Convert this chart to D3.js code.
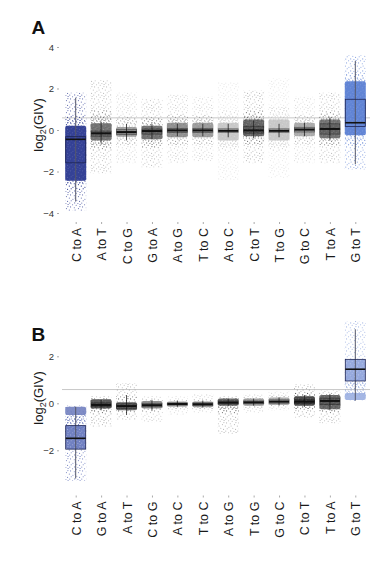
<!DOCTYPE html>
<html><head><meta charset="utf-8">
<script src="https://cdn.jsdelivr.net/npm/d3@7"></script>
<style>
html,body{margin:0;padding:0;background:#fff;}
svg{display:block;}
text{font-family:"Liberation Sans",Arial,Helvetica,sans-serif;}
</style></head>
<body>
<svg id="chart" width="382" height="562"></svg>
<script>
// ---------- Panel A data ----------
const catsA = ["C to A","A to T","C to G","G to A","A to G","T to C","A to C","C to T","T to G","G to C","T to A","G to T"];
const medA      = [-0.45,-0.16,-0.10,-0.05,-0.02,-0.02,-0.04,-0.02,-0.04, 0.02, 0.05, 0.35];
const q1A       = [-1.58,-0.30,-0.22,-0.20,-0.12,-0.12,-0.12,-0.15,-0.12,-0.10,-0.20, 0.17];
const q3A       = [-0.32,-0.05, 0.02, 0.05, 0.08, 0.08, 0.06, 0.18, 0.06, 0.13, 0.30, 1.48];
const whLoA     = [-3.45,-0.65,-0.50,-0.45,-0.30,-0.30,-0.35,-0.40,-0.35,-0.30,-0.50,-1.65];
const whHiA     = [ 1.55, 0.40, 0.30, 0.30, 0.30, 0.30, 0.30, 0.45, 0.30, 0.35, 0.60, 3.33];
const denseLoA  = [-2.45,-0.50,-0.33,-0.45,-0.35,-0.35,-0.50,-0.30,-0.50,-0.30,-0.40,-0.25];
const denseHiA  = [ 0.20, 0.32, 0.15, 0.20, 0.35, 0.35, 0.35, 0.50, 0.50, 0.35, 0.50, 2.35];
const sparseLoA = [-3.90,-2.10,-1.60,-1.80,-1.60,-1.50,-2.40,-1.60,-2.30,-1.60,-1.60,-1.90];
const sparseHiA = [ 1.80, 2.40, 1.80, 1.50, 1.70, 1.60, 2.30, 1.90, 2.50, 1.60, 1.80, 3.60];
const ticksA = [-4,-2,0,2,4];

// ---------- Panel B data ----------
const catsB = ["C to A","G to A","A to T","C to G","A to C","T to C","A to G","T to G","G to C","C to T","T to A","G to T"];
const medB      = [-1.49,-0.07,-0.12,-0.08,-0.03,-0.04, 0.03, 0.04, 0.07, 0.07, 0.10, 1.45];
const q1B       = [-1.95,-0.15,-0.22,-0.15,-0.08,-0.10,-0.03,-0.02, 0.00, 0.00,-0.05, 0.95];
const q3B       = [-0.95, 0.02,-0.02, 0.00, 0.02, 0.02, 0.10, 0.10, 0.15, 0.15, 0.22, 1.87];
const whLoB     = [-3.20,-0.30,-0.50,-0.30,-0.15,-0.18,-0.12,-0.10,-0.10,-0.15,-0.30, 0.11];
const whHiB     = [-0.15, 0.15, 0.35, 0.15, 0.12, 0.12, 0.20, 0.20, 0.25, 0.35, 0.40, 3.15];
const denseLoB  = [-0.50,-0.22,-0.30,-0.22,-0.15,-0.17,-0.10,-0.10,-0.07,-0.10,-0.25, 0.14];
const denseHiB  = [-0.15, 0.17, 0.05, 0.10, 0.08, 0.08, 0.20, 0.20, 0.25, 0.30, 0.35, 0.44];
const sparseLoB = [-3.30,-1.00,-0.70,-0.80,-0.50,-0.40,-1.30,-0.40,-0.30,-0.60,-0.85, 0.10];
const sparseHiB = [-0.10, 0.30, 0.85, 0.30, 0.30, 0.40, 0.30, 0.40, 0.50, 0.80, 0.55, 3.50];
const ticksB = [-2,0,2];

const refValue = Math.log2(1.5);

// ---------- styles ----------
const colA = ["#2a3890","#555555","#8a8a8a","#555555","#7a7a7a","#888888","#bdbdbd","#444444","#bdbdbd","#9a9a9a","#555555","#5a7ed3"];
const colB = ["#4a5cae","#333333","#444444","#777777","#999999","#888888","#444444","#888888","#999999","#222222","#444444","#7f98d8"];
const dotSpots = [[0.6,0.7],[4.2,1.3],[8.1,0.4],[10.6,2.9],[2.3,3.8],[6.4,4.6],[9.3,6.1],[0.9,7.3],[4.8,8.2],[7.6,9.4],
                  [11.2,8.8],[2.7,10.9],[5.9,11.5],[9.8,11.1],[3.1,6.0],[7.9,2.6]];

const svg = d3.select("#chart");
const defs = svg.append("defs");
const patternIds = {};
function patternFor(color, r){
  const key = color + "_" + r;
  if (patternIds[key]) return patternIds[key];
  const id = "pt" + Object.keys(patternIds).length;
  const p = defs.append("pattern").attr("id", id).attr("patternUnits","userSpaceOnUse")
    .attr("width", 12).attr("height", 12);
  dotSpots.forEach(([x,y])=>{
    p.append("circle").attr("cx",x).attr("cy",y).attr("r",r).attr("fill",color);
  });
  patternIds[key] = "url(#" + id + ")";
  return patternIds[key];
}
// white grain for dense clouds
const grain = patternFor("#ffffff", 0.55);

function panel(cfg){
  const g = svg.append("g");
  const x = d3.scalePoint().domain(cfg.cats).range([75.7, 355.3]);
  const y = d3.scaleLinear().domain(cfg.domain).range(cfg.range);
  const w = 21, bw = 20;

  // reference line
  g.append("line").attr("x1", 62).attr("x2", 370)
    .attr("y1", y(refValue)).attr("y2", y(refValue))
    .attr("stroke", "#c8c8c8").attr("stroke-width", 1);

  cfg.cats.forEach((c, i) => {
    const cx = x(c), col = cfg.col[i];
    const isBlue = cfg.blue[i];
    const pf = patternFor(col, 0.55);
    // sparse cloud
    g.append("rect").attr("x", cx - w/2).attr("width", w)
      .attr("y", y(cfg.sHi[i])).attr("height", y(cfg.sLo[i]) - y(cfg.sHi[i]))
      .attr("fill", pf).attr("opacity", isBlue ? 0.75 : 0.4);
    // medium density halo
    const mHi = cfg.dHi[i] + (cfg.sHi[i] - cfg.dHi[i]) * 0.3;
    const mLo = cfg.dLo[i] - (cfg.dLo[i] - cfg.sLo[i]) * 0.3;
    const halo = g.append("g").attr("opacity", 0.6);
    halo.append("rect").attr("x", cx - w/2).attr("width", w)
      .attr("y", y(mHi)).attr("height", y(mLo) - y(mHi))
      .attr("fill", pf);
    halo.append("rect").attr("x", cx - w/2 + 3).attr("width", w)
      .attr("y", y(mHi) + 5).attr("height", Math.max(0, y(mLo) - y(mHi) - 10))
      .attr("fill", pf)
      .attr("transform", "translate(-3,0)");
    // dense cloud
    g.append("rect").attr("x", cx - w/2).attr("width", w).attr("rx", 2)
      .attr("y", y(cfg.dHi[i])).attr("height", y(cfg.dLo[i]) - y(cfg.dHi[i]))
      .attr("fill", col).attr("opacity", isBlue ? (cfg.boxFill[i] ? 0.7 : 0.95) : 0.82);
    g.append("rect").attr("x", cx - w/2).attr("width", w)
      .attr("y", y(cfg.dHi[i])).attr("height", y(cfg.dLo[i]) - y(cfg.dHi[i]))
      .attr("fill", grain).attr("opacity", isBlue && !cfg.boxFill[i] ? 0.2 : 0.35);
    // box fill (for sparse blue boxes)
    if (cfg.boxFill[i]) {
      g.append("rect").attr("x", cx - bw/2).attr("width", bw)
        .attr("y", y(cfg.q3[i])).attr("height", y(cfg.q1[i]) - y(cfg.q3[i]))
        .attr("fill", cfg.boxFill[i]).attr("opacity", 0.8);
      g.append("rect").attr("x", cx - bw/2).attr("width", bw)
        .attr("y", y(cfg.q3[i])).attr("height", y(cfg.q1[i]) - y(cfg.q3[i]))
        .attr("fill", grain).attr("opacity", 0.5);
    }
    // whisker
    g.append("line").attr("x1", cx).attr("x2", cx)
      .attr("y1", y(cfg.whHi[i])).attr("y2", y(cfg.whLo[i]))
      .attr("stroke", isBlue ? "#55586a" : "#222").attr("stroke-width", isBlue ? 1 : 0.8);
    // box
    g.append("rect").attr("x", cx - bw/2).attr("width", bw)
      .attr("y", y(cfg.q3[i])).attr("height", Math.max(0.5, y(cfg.q1[i]) - y(cfg.q3[i])))
      .attr("fill", isBlue ? "none" : "rgba(0,0,0,0.15)")
      .attr("stroke", isBlue ? "#1e2555" : "rgba(0,0,0,0.4)").attr("stroke-width", 0.8);
    // median
    g.append("line").attr("x1", cx - bw/2).attr("x2", cx + bw/2)
      .attr("y1", y(cfg.med[i])).attr("y2", y(cfg.med[i]))
      .attr("stroke", "#111").attr("stroke-width", isBlue ? 1.6 : 2);
  });

  // y axis
  const ya = g.append("g").attr("transform", "translate(59,0)")
    .call(d3.axisLeft(y).tickValues(cfg.ticks).tickSize(2).tickPadding(3).tickFormat(d3.format("d")));
  ya.select(".domain").remove();
  ya.selectAll(".tick line").attr("stroke", "#aaa");
  ya.selectAll(".tick text").attr("font-size", 9.5).attr("fill", "#333")
    .attr("font-family", "'Liberation Sans',Arial,sans-serif");

  // x axis
  const xa = g.append("g").attr("transform", "translate(0," + cfg.xAxisY + ")")
    .call(d3.axisBottom(x).tickSize(2).tickPadding(0));
  xa.select(".domain").remove();
  xa.selectAll(".tick line").attr("stroke", "#aaa");
  xa.selectAll(".tick text")
    .attr("transform", "rotate(-90)")
    .attr("x", -6).attr("y", 0).attr("dy", "0.36em")
    .attr("text-anchor", "end")
    .attr("font-size", 12.5).attr("fill", "#1a1a1a")
    .attr("font-family", "'Liberation Sans',Arial,sans-serif");

  // y label
  const lab = g.append("text")
    .attr("transform", "translate(43," + cfg.labelY + ") rotate(-90)")
    .attr("text-anchor", "middle").attr("font-size", 13).attr("fill", "#1a1a1a");
  lab.append("tspan").text("log");
  lab.append("tspan").attr("font-size", 9).attr("dy", 3).text("2");
  lab.append("tspan").attr("dy", -3).text("(GIV)");

  // panel letter
  g.append("text").attr("x", 31.5).attr("y", cfg.letterY)
    .attr("font-family", "'Liberation Sans Narrow','Liberation Sans',Arial,sans-serif")
    .attr("font-weight", "bold").attr("font-size", 19).attr("fill", "#111")
    .text(cfg.letter);
}

panel({
  cats: catsA, med: medA, q1: q1A, q3: q3A, whLo: whLoA, whHi: whHiA,
  dLo: denseLoA, dHi: denseHiA, sLo: sparseLoA, sHi: sparseHiA, ticks: ticksA,
  col: colA, blue: [1,0,0,0,0,0,0,0,0,0,0,1], boxFill: [null,null,null,null,null,null,null,null,null,null,null,null],
  domain: [-4.5, 4.5], range: [223.4, 36.6], xAxisY: 222, labelY: 125, letterY: 33.5, letter: "A"
});
panel({
  cats: catsB, med: medB, q1: q1B, q3: q3B, whLo: whLoB, whHi: whHiB,
  dLo: denseLoB, dHi: denseHiB, sLo: sparseLoB, sHi: sparseHiB, ticks: ticksB,
  col: colB, blue: [1,0,0,0,0,0,0,0,0,0,0,1], boxFill: ["#4e61b3",null,null,null,null,null,null,null,null,null,null,"#7d95d6"],
  domain: [-4, 3.8], range: [497.3, 314], xAxisY: 495.5, labelY: 398, letterY: 341, letter: "B"
});
</script>
</body></html>
